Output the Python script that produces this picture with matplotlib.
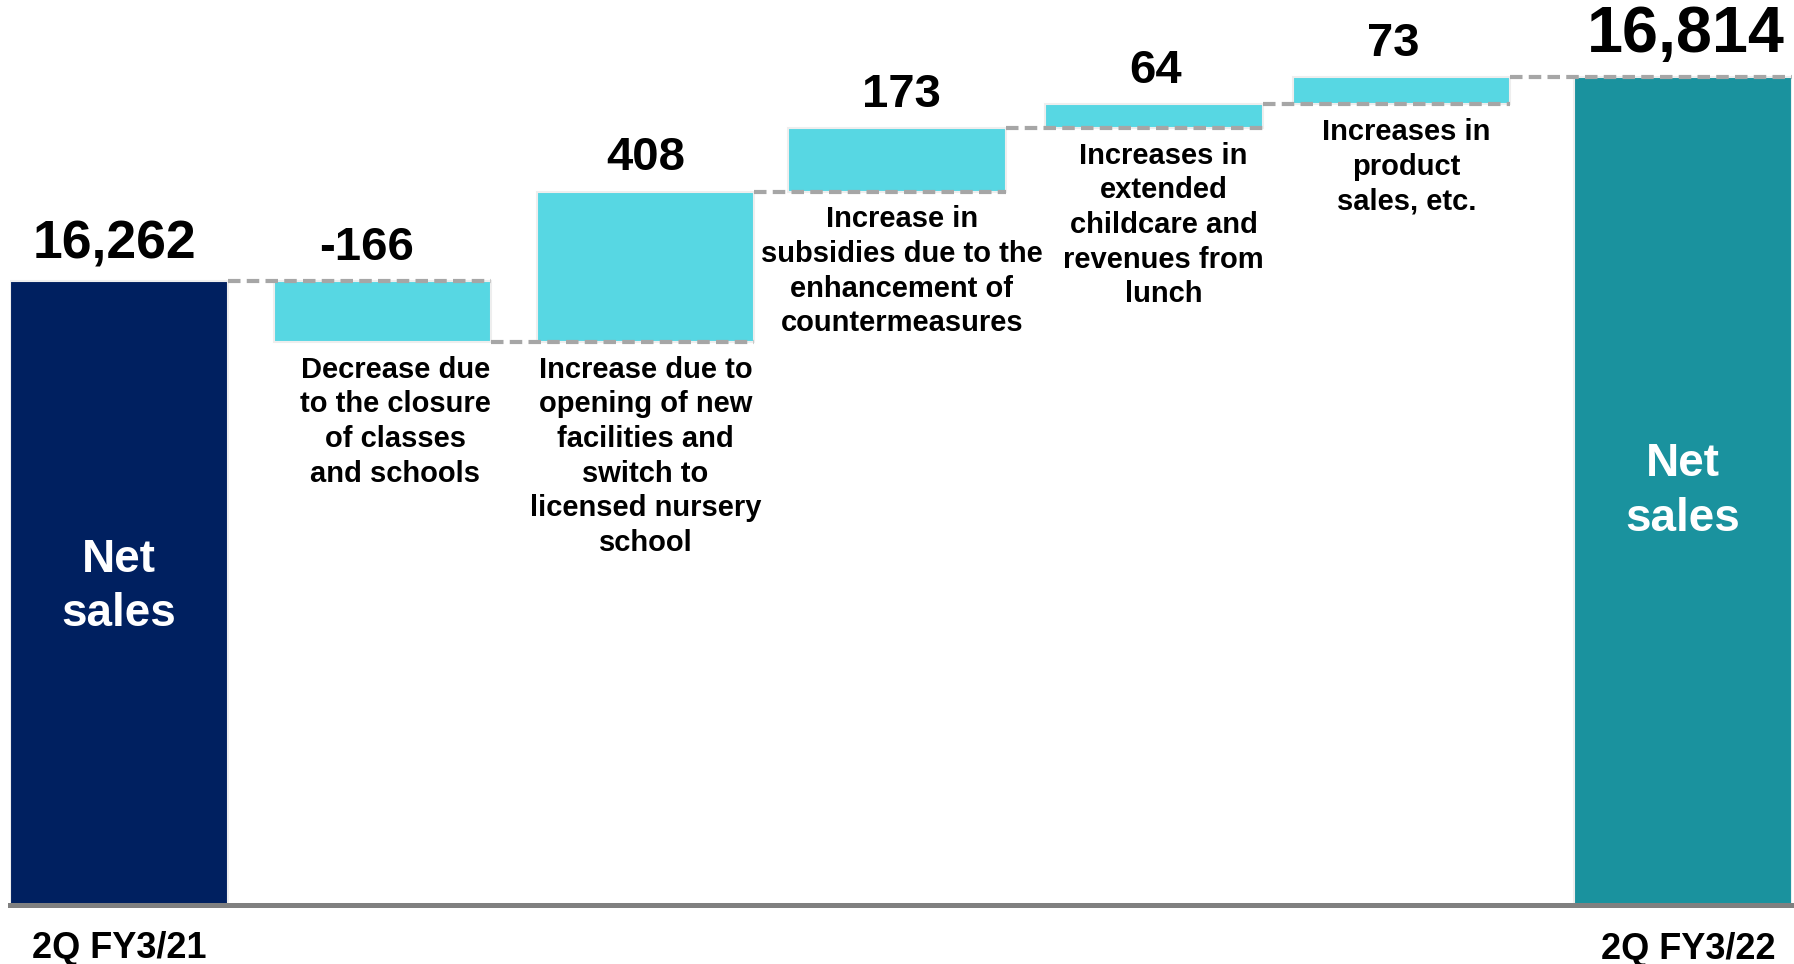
#! /usr/bin/env python
# coding: utf-8

import numpy as np
from matplotlib import pyplot as plt
from matplotlib import transforms

plt.rcParams['font.family'] = 'sans-serif'
plt.rcParams['font.sans-serif'] = ['Liberation Sans', 'Arial', 'DejaVu Sans']
plt.rcParams['font.weight'] = 'bold'

# net sales, million yen
start_label = "2Q FY3/21"
end_label = "2Q FY3/22"
start_value = 16262
changes = [-166, 408, 173, 64, 73]
change_labels = [
    "Decrease due\nto the closure\nof classes\nand schools",
    "Increase due to\nopening of new\nfacilities and\nswitch to\nlicensed nursery\nschool",
    "Increase in\nsubsidies due to the\nenhancement of\ncountermeasures",
    "Increases in\nextended\nchildcare and\nrevenues from\nlunch",
    "Increases in\nproduct\nsales, etc.",
]
end_value = start_value + sum(changes)

# layout
xpos = [0, 1.01, 2.02, 2.985, 3.97, 4.92, 6.0]
bar_w = 0.834
y_floor = 14567     # axis is cut, bars start here
y_top = 17024
value_dx = [-11, 0, 3, 1.5, -6]     # pt, nudges for the step values
desc_dx = [9.5, 0, 3.5, 7, 3.5]     # pt, nudges for the descriptions

navy = '#002060'
teal = '#1A929E'
cyan = '#57D7E3'
dash_grey = '#A6A6A6'

fig = plt.figure(figsize=(17.94, 9.64), dpi=100)
ax = fig.add_axes([0.0057, 0.0612, 0.993, 0.9388])
ax.set_xlim(xpos[0] - bar_w / 2, xpos[-1] + bar_w / 2)
ax.set_ylim(y_floor, y_top)
for s in ['top', 'left', 'right']:
    ax.spines[s].set_visible(False)
ax.spines['bottom'].set_color('#808080')
ax.spines['bottom'].set_linewidth(3.6)
ax.spines['bottom'].set_zorder(5)
ax.set_xticks([])
ax.set_yticks([])

edge = dict(edgecolor='#EEEEEE', linewidth=1.5)

# totals
ax.bar(xpos[0], start_value - y_floor, bottom=y_floor, width=bar_w, color=navy, zorder=2, **edge)
ax.bar(xpos[-1], end_value - y_floor, bottom=y_floor, width=bar_w, color=teal, zorder=2, **edge)

# steps
levels = np.cumsum([start_value] + changes)
for i, d in enumerate(changes):
    lo = min(levels[i], levels[i + 1])
    ax.bar(xpos[i + 1], abs(d), bottom=lo, width=bar_w, color=cyan, zorder=2, **edge)
    top = max(levels[i], levels[i + 1])
    ax.annotate(str(d), (xpos[i + 1], top), xytext=(value_dx[i], 8), textcoords='offset points',
                ha='center', va='bottom', fontsize=34, zorder=6)
    ax.annotate(change_labels[i], (xpos[i + 1], lo), xytext=(desc_dx[i], -10),
                textcoords='offset points', ha='center', va='top', fontsize=21,
                linespacing=1.3, zorder=6)

# dashed connectors, right edge of one bar to right edge of the next
for i in range(len(xpos) - 1):
    x0 = xpos[i] + bar_w / 2
    x1 = xpos[i + 1] + bar_w / 2
    ax.plot([x0, x1], [levels[i], levels[i]], color=dash_grey, lw=3,
            dashes=(3, 1.5), zorder=4, dash_capstyle='butt')

ax.annotate(f"{start_value:,}", (xpos[0], start_value), xytext=(-3, 8), textcoords='offset points',
            ha='center', va='bottom', fontsize=38.5, zorder=6)
ax.annotate(f"{end_value:,}", (xpos[-1], end_value), xytext=(2, 9), textcoords='offset points',
            ha='center', va='bottom', fontsize=46.5, zorder=6)

trans = transforms.blended_transform_factory(ax.transData, ax.transAxes)
ax.text(xpos[0], 0.351, "Net\nsales", transform=trans, ha='center', va='center',
        color='white', fontsize=33, linespacing=1.3, zorder=6)
ax.text(xpos[-1], 0.457, "Net\nsales", transform=trans, ha='center', va='center',
        color='white', fontsize=33, linespacing=1.3, zorder=6)

# period labels under the axis line
trans2 = transforms.blended_transform_factory(ax.transData, fig.transFigure)
ax.text(xpos[0], 0.006, start_label, transform=trans2, ha='center', va='baseline',
        fontsize=26, clip_on=False)
ax.annotate(end_label, (xpos[-1], 0.005), xycoords=trans2, xytext=(4, 0),
            textcoords='offset points', ha='center', va='baseline', fontsize=26)

fig.savefig('out.png', dpi=100, facecolor='white')
